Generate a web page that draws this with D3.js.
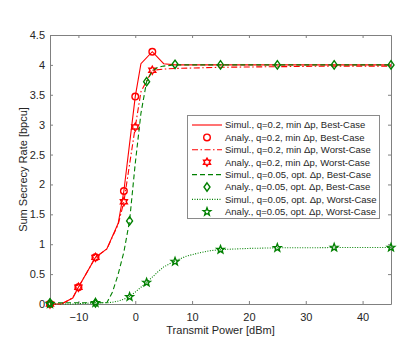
<!DOCTYPE html>
<html>
<head>
<meta charset="utf-8">
<script src="https://cdn.jsdelivr.net/npm/d3@7"></script>
<style>
	body { margin: 0; background: #fff; }
	text { font-family: "Liberation Sans", Arial, Helvetica, sans-serif; fill: #262626; }
</style>
</head>
<body>
<div class="chart"></div>
<script>
// values
var xSimRed = [-15, -13, -11, -10, -7, -5, -3, -2, 0, 1, 3, 5, 7, 15, 25, 35, 45];
var redBestSim = [0, 0, 0.1, 0.28, 0.78, 0.92, 1.35, 1.89, 3.47, 4.02, 4.22, 4.02, 4.0, 4.0, 4.0, 4.0, 4.0];
var redWorstSim = [0, 0, 0.1, 0.28, 0.78, 0.92, 1.33, 1.71, 2.96, 3.55, 3.91, 3.93, 3.94, 3.96, 3.97, 3.98, 3.98];

var xAnaRed = [-15, -10, -7, -2, 0, 3];
var redBestAna = [0, 0.28, 0.78, 1.89, 3.47, 4.22];
var redWorstAna = [0, 0.28, 0.78, 1.71, 2.96, 3.91];

var xSimGreen = [-15, -13, -11, -9, -7, -5, -4, -3, -2, -1, 0, 1, 2, 3, 4, 5, 7, 9, 11, 13, 15, 20, 25, 30, 35, 40, 45];
var greenBestSim = [0.02, 0.02, 0.02, 0.02, 0.02, 0.02, 0.2, 0.5, 0.87, 1.39, 2.35, 3.19, 3.72, 3.9, 3.96, 3.98, 4.0, 4.0, 4.0, 4.0, 4.0, 4.0, 4.0, 4.0, 4.0, 4.0, 4.0];
var greenWorstSim = [0, 0, 0, 0.01, 0.02, 0.02, 0.03, 0.05, 0.08, 0.13, 0.2, 0.28, 0.36, 0.45, 0.54, 0.62, 0.72, 0.8, 0.85, 0.89, 0.91, 0.93, 0.94, 0.94, 0.945, 0.945, 0.945];

var xAnaGreen = [-15, -7, -1, 2, 7, 15, 25, 35, 45];
var greenBestAna = [0.02, 0.02, 1.39, 3.72, 4.01, 4.0, 4.0, 4.0, 4.0];
var greenWorstAna = [0, 0.02, 0.12, 0.36, 0.71, 0.91, 0.94, 0.945, 0.945];

var xTicks = [-10, 0, 10, 20, 30, 40];
var yTicks = [0, 0.5, 1, 1.5, 2, 2.5, 3, 3.5, 4, 4.5];

var legendLabels = [
	"Simul., q=0.2, min \u0394p, Best-Case",
	"Analy., q=0.2, min \u0394p, Best-Case",
	"Simul., q=0.2, min \u0394p, Worst-Case",
	"Analy., q=0.2, min \u0394p, Worst-Case",
	"Simul., q=0.05, opt. \u0394p, Best-Case",
	"Analy., q=0.05, opt. \u0394p, Best-Case",
	"Simul., q=0.05, opt. \u0394p, Worst-Case",
	"Analy., q=0.05, opt. \u0394p, Worst-Case"
];

var width = 415;
var height = 347;
var red = "#ff0000";
var green = "#008000";
var axisColor = "#808080";

var svg = d3.select(".chart")
	.append("svg")
	.attr("width", width)
	.attr("height", height);

var x = d3.scaleLinear().domain([-15, 45]).range([50, 391]);
var y = d3.scaleLinear().domain([0, 4.5]).range([304, 35]);

// marker shapes
function starPath(n, R, r) {
	var pts = [];
	for (var i = 0; i < 2 * n; i++) {
		var a = -Math.PI / 2 + i * Math.PI / n;
		var rad = i % 2 === 0 ? R : r;
		pts.push([rad * Math.cos(a), rad * Math.sin(a)]);
	}
	return "M" + pts.map(function(p) { return p[0].toFixed(2) + "," + p[1].toFixed(2); }).join("L") + "Z";
}
var markerPaths = {
	circle: d3.symbol(d3.symbolCircle).size(Math.PI * 3.3 * 3.3)(),
	diamond: "M0,-4.2L3,0L0,4.2L-3,0Z",
	hexagram: starPath(6, 4.0, 2.3),
	pentagram: starPath(5, 4.0, 1.7)
};

var series = [
	{ kind: "line", xs: xSimRed, ys: redBestSim, color: red, dash: null },
	{ kind: "mark", xs: xAnaRed, ys: redBestAna, color: red, shape: "circle" },
	{ kind: "line", xs: xSimRed, ys: redWorstSim, color: red, dash: "6,2.5,1.5,2.5" },
	{ kind: "mark", xs: xAnaRed, ys: redWorstAna, color: red, shape: "hexagram" },
	{ kind: "line", xs: xSimGreen, ys: greenBestSim, color: green, dash: "5,3" },
	{ kind: "mark", xs: xAnaGreen, ys: greenBestAna, color: green, shape: "diamond" },
	{ kind: "line", xs: xSimGreen, ys: greenWorstSim, color: green, dash: "1,1.5" },
	{ kind: "mark", xs: xAnaGreen, ys: greenWorstAna, color: green, shape: "pentagram" }
];

// Axes (box with inward ticks)
var gx = svg.append("g")
	.attr("transform", "translate(0," + y(0) + ")")
	.call(d3.axisBottom(x).tickValues(xTicks).tickSizeInner(-3).tickSizeOuter(0).tickPadding(9).tickFormat(d3.format("d")));
var gxTop = svg.append("g")
	.attr("transform", "translate(0," + y(4.5) + ")")
	.call(d3.axisTop(x).tickValues(xTicks).tickSizeInner(-3).tickSizeOuter(0).tickFormat(""));
var gy = svg.append("g")
	.attr("transform", "translate(" + x(-15) + ",0)")
	.call(d3.axisLeft(y).tickValues(yTicks).tickSizeInner(-3).tickSizeOuter(0).tickPadding(5).tickFormat(function(d) { return String(d); }));
var gyRight = svg.append("g")
	.attr("transform", "translate(" + x(45) + ",0)")
	.call(d3.axisRight(y).tickValues(yTicks).tickSizeInner(-3).tickSizeOuter(0).tickFormat(""));

[gx, gxTop, gy, gyRight].forEach(function(g) {
	g.select(".domain").attr("stroke", axisColor);
	g.selectAll(".tick line").attr("stroke", axisColor);
	g.selectAll(".tick text")
		.attr("fill", "#262626")
		.style("font-size", "11px")
		.style("font-family", "'Liberation Sans', Arial, sans-serif");
});

svg.append("text")
	.attr("x", (x(-15) + x(45)) / 2)
	.attr("y", 334)
	.attr("text-anchor", "middle")
	.style("font-size", "11px")
	.text("Transmit Power [dBm]");

svg.append("text")
	.attr("transform", "translate(27," + (y(0) + y(4.5)) / 2 + ") rotate(-90)")
	.attr("text-anchor", "middle")
	.style("font-size", "11px")
	.text("Sum Secrecy Rate [bpcu]");

// Data
var lineGen = d3.line()
	.x(function(d) { return x(d[0]); })
	.y(function(d) { return y(d[1]); });

var plot = svg.append("g").attr("class", "plot");
series.forEach(function(s) {
	var pts = s.xs.map(function(v, i) { return [v, s.ys[i]]; });
	if (s.kind === "line") {
		plot.append("path")
			.datum(pts)
			.attr("fill", "none")
			.attr("stroke", s.color)
			.attr("stroke-width", 1.1)
			.attr("stroke-dasharray", s.dash)
			.attr("d", lineGen);
	} else {
		plot.selectAll(null)
			.data(pts)
			.enter()
			.append("path")
			.attr("d", markerPaths[s.shape])
			.attr("transform", function(d) { return "translate(" + x(d[0]) + "," + y(d[1]) + ")"; })
			.attr("fill", "none")
			.attr("stroke", s.color)
			.attr("stroke-width", 1.4);
	}
});

// Legend
var legend = svg.append("g").attr("class", "legend");
legend.append("rect")
	.attr("x", 187.5)
	.attr("y", 115.5)
	.attr("width", 192)
	.attr("height", 103)
	.attr("fill", "#fff")
	.attr("stroke", "#8a8a8a")
	.attr("stroke-width", 1);

series.forEach(function(s, i) {
	var ry = 125 + i * 12.4;
	if (s.kind === "line") {
		legend.append("line")
			.attr("x1", 192).attr("x2", 222)
			.attr("y1", ry).attr("y2", ry)
			.attr("stroke", s.color)
			.attr("stroke-width", 1.1)
			.attr("stroke-dasharray", s.dash);
	} else {
		legend.append("path")
			.attr("d", markerPaths[s.shape])
			.attr("transform", "translate(207," + ry + ")")
			.attr("fill", "none")
			.attr("stroke", s.color)
			.attr("stroke-width", 1.4);
	}
	legend.append("text")
		.attr("x", 225)
		.attr("y", ry)
		.attr("dy", "0.35em")
		.style("font-size", "9.5px")
		.text(legendLabels[i]);
});
</script>
</body>
</html>
